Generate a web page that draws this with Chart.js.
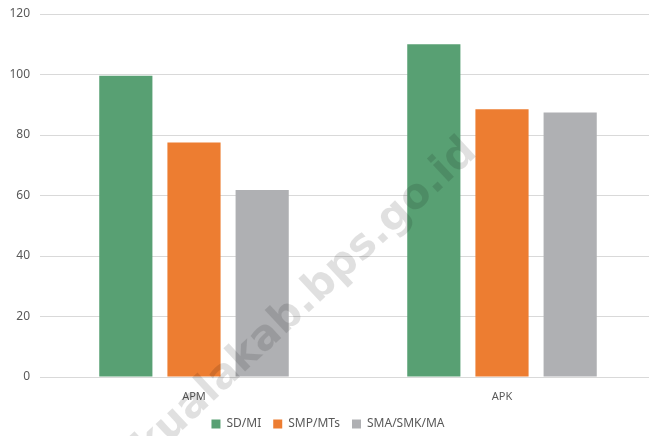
<!DOCTYPE html>
<html>
<head>
<meta charset="utf-8">
<script src="https://cdn.jsdelivr.net/npm/chart.js@4"></script>
<style>
  html, body { margin: 0; padding: 0; overflow: hidden; background: #fff; }
  #wrap { width: 656px; height: 436px; }
</style>
</head>
<body>
<div id="wrap"><canvas id="myChart"></canvas></div>
<script>
// --- Data ---
const categories = ['APM', 'APK'];
const seriesNames = ['SD/MI', 'SMP/MTs', 'SMA/SMK/MA'];
const sdValues = [99.6, 110.0];
const smpValues = [77.5, 88.5];
const smaValues = [61.8, 87.4];
const yTicks = [0, 20, 40, 60, 80, 100, 120];

const colors = ['#58a073', '#ed7d31', '#afb0b3'];
const gridColor = '#d9d9d9';
const textColor = '#595959';

// --- Watermark ---
const watermark = {
  id: 'watermark',
  afterDraw(chart) {
    const c = chart.ctx;
    c.save();
    c.translate(306, 300);
    c.rotate(-43 * Math.PI / 180);
    c.font = 'bold 42px "DejaVu Sans", sans-serif';
    c.fillStyle = 'rgba(0, 0, 0, 0.12)';
    c.textAlign = 'center';
    c.textBaseline = 'middle';
    c.fillText('kualakab.bps.go.id', 0, 0);
    c.restore();
  }
};

const ctx = document.getElementById('myChart').getContext('2d');

let chart = new Chart(ctx, {
  type: 'bar',
  data: {
    labels: categories,
    datasets: [
      { label: seriesNames[0], data: sdValues, backgroundColor: colors[0] },
      { label: seriesNames[1], data: smpValues, backgroundColor: colors[1] },
      { label: seriesNames[2], data: smaValues, backgroundColor: colors[2] }
    ]
  },
  options: {
    responsive: true,
    maintainAspectRatio: false,
    animation: false,
    categoryPercentage: 0.664,
    barPercentage: 0.78,
    layout: { padding: { top: 14, right: 0, bottom: -4, left: 0 } },
    plugins: {
      tooltip: { enabled: false },
      legend: {
        position: 'bottom',
        labels: {
          boxWidth: 9,
          boxHeight: 9,
          padding: 12,
          color: textColor,
          font: { family: '"Noto Sans", sans-serif', size: 12 }
        }
      }
    },
    scales: {
      x: {
        grid: { display: false },
        border: { color: gridColor },
        ticks: {
          color: textColor,
          padding: 5,
          font: { family: '"Noto Sans", sans-serif', size: 11 }
        },
        afterFit: (s) => { s.height = 29; s.paddingLeft = 0; s.paddingRight = 0; }
      },
      y: {
        min: 0,
        max: 120,
        afterBuildTicks: (s) => { s.ticks = yTicks.map(v => ({ value: v })); },
        grid: { color: gridColor, drawTicks: false },
        border: { display: false },
        ticks: {
          color: textColor,
          padding: 10,
          font: { family: '"Noto Sans", sans-serif', size: 12 }
        },
        afterFit: (s) => { s.width = 40; s.paddingTop = 0; s.paddingBottom = 0; }
      }
    }
  },
  plugins: [watermark]
});
</script>
</body>
</html>
